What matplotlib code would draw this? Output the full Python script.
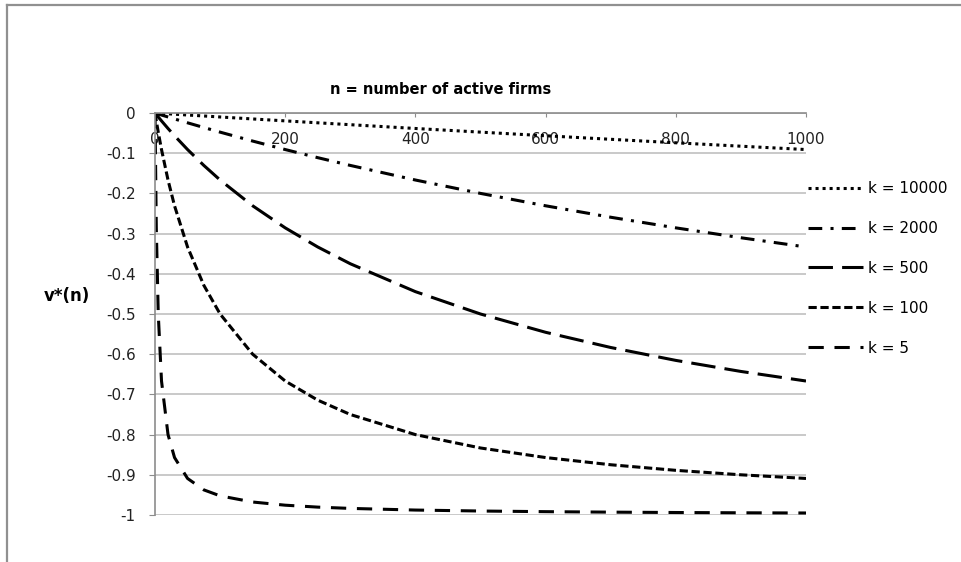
import numpy as np
import matplotlib
matplotlib.use("Agg")
import matplotlib.pyplot as plt
from matplotlib.lines import Line2D

plt.rcParams['font.family'] = ['DejaVu Sans']

# n = number of active firms
n = [0, 2, 5, 10, 20, 30, 50, 75, 100, 150, 200, 250, 300, 400, 500,
     600, 700, 800, 900, 1000]

# v*(n), one list per k
v_k10000 = [0, -0.0002, -0.0005, -0.001, -0.002, -0.003, -0.005, -0.0074,
            -0.0099, -0.0148, -0.0196, -0.0244, -0.0291, -0.0385, -0.0476,
            -0.0566, -0.0654, -0.0741, -0.0826, -0.0909]
v_k2000 = [0, -0.001, -0.0025, -0.005, -0.0099, -0.0148, -0.0244, -0.0361,
           -0.0476, -0.0698, -0.0909, -0.1111, -0.1304, -0.1667, -0.2,
           -0.2308, -0.2593, -0.2857, -0.3103, -0.3333]
v_k500 = [0, -0.004, -0.0099, -0.0196, -0.0385, -0.0566, -0.0909, -0.1304,
          -0.1667, -0.2308, -0.2857, -0.3333, -0.375, -0.4444, -0.5,
          -0.5455, -0.5833, -0.6154, -0.6429, -0.6667]
v_k100 = [0, -0.0196, -0.0476, -0.0909, -0.1667, -0.2308, -0.3333, -0.4286,
          -0.5, -0.6, -0.6667, -0.7143, -0.75, -0.8, -0.8333,
          -0.8571, -0.875, -0.8889, -0.9, -0.9091]
v_k5 = [0, -0.2857, -0.5, -0.6667, -0.8, -0.8571, -0.9091, -0.9375,
        -0.9524, -0.9677, -0.9756, -0.9804, -0.9836, -0.9877, -0.9901,
        -0.9917, -0.9929, -0.9938, -0.9945, -0.995]

labels = ['k = 10000', 'k = 2000', 'k = 500', 'k = 100', 'k = 5']
x_ticks = [0, 200, 400, 600, 800, 1000]
y_ticks = [0, -0.1, -0.2, -0.3, -0.4, -0.5, -0.6, -0.7, -0.8, -0.9, -1]

W, H = 961, 562
fig = plt.figure(figsize=(W / 100, H / 100), dpi=100)
ax = fig.add_axes([155 / W, 1 - 515 / H, (806 - 155) / W, (515 - 113) / H])

lw = 2.2
ax.plot(n, v_k10000, c='k', lw=lw, ls=(0, (1, 1.3)), label=labels[0])
ax.plot(n, v_k2000, c='k', lw=lw, ls=(0, (4.5, 2.7, 1, 2.7)), label=labels[1])
ax.plot(n, v_k500, c='k', lw=lw, ls=(0, (8, 3)), label=labels[2])
ax.plot(n, v_k100, c='k', lw=lw, ls=(0, (2.7, 1.2)), label=labels[3])
ax.plot(n, v_k5, c='k', lw=lw, ls=(0, (5, 3.5)), label=labels[4])

ax.set_xlim(0, 1000)
ax.set_ylim(-1, 0)
ax.set_xticks(x_ticks)
ax.set_yticks(y_ticks)
ax.set_yticklabels(['0', '-0.1', '-0.2', '-0.3', '-0.4', '-0.5', '-0.6',
                    '-0.7', '-0.8', '-0.9', '-1'])

ax.grid(axis='y', color='#c0c0c0', lw=1.2)
ax.set_axisbelow(True)
for s in ['top', 'right']:
    ax.spines[s].set_visible(False)
ax.spines['bottom'].set_position(('data', 0))
ax.spines['bottom'].set_color('#8c8c8c')
ax.spines['left'].set_color('#8c8c8c')
ax.spines['bottom'].set_linewidth(1.2)
ax.spines['left'].set_linewidth(1.2)
ax.tick_params(axis='x', direction='out', length=3, color='#8c8c8c',
               pad=11, labelsize=11, labelcolor='#222222')
ax.tick_params(axis='y', direction='out', length=4, color='#8c8c8c',
               pad=10, labelsize=11, labelcolor='#222222')

fig.text(441 / W, 1 - 90 / H, 'n = number of active firms', ha='center',
         va='center', fontsize=10.5, fontweight='bold')
fig.text(67 / W, 1 - 296 / H, 'v*(n)', ha='center', va='center',
         fontsize=12, fontweight='bold')

ax.legend(loc='upper left', bbox_to_anchor=(808 / W, 1 - 181 / H),
          bbox_transform=fig.transFigure, frameon=False, fontsize=11,
          handlelength=3.6, handletextpad=0.3, labelspacing=1.63,
          borderpad=0, borderaxespad=0)

# outer chart frame (only top and left edges visible)
fig.add_artist(Line2D([7 / W, 1], [1 - 5 / H, 1 - 5 / H], color='#909090',
                      lw=1.6, transform=fig.transFigure))
fig.add_artist(Line2D([7 / W, 7 / W], [0, 1 - 5 / H], color='#909090',
                      lw=1.6, transform=fig.transFigure))

fig.savefig('out.png', dpi=100)
